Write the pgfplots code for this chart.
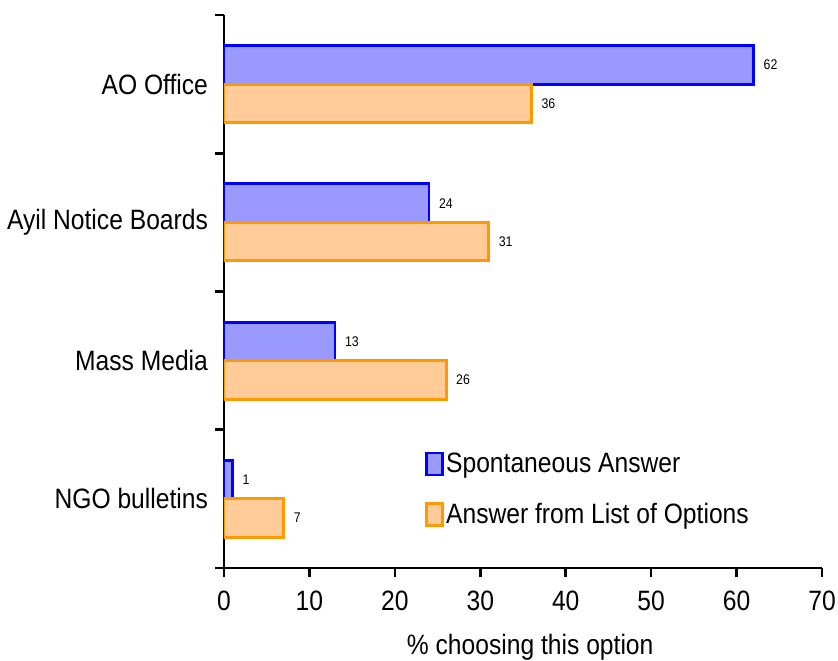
\documentclass[border=0pt]{standalone}
\usepackage{fontspec}
\setmainfont[FakeStretch=0.88]{Liberation Sans}
\usepackage{pgfplots}
\pgfplotsset{compat=1.18}
\definecolor{bfill}{HTML}{9999FF}
\definecolor{bdraw}{HTML}{0000FF}
\definecolor{ofill}{HTML}{FFCC99}
\definecolor{odraw}{HTML}{FF9900}
\begin{document}
\begin{tikzpicture}
\begin{axis}[
  scale only axis, width=299pt, height=276.5pt,
  xmin=0, xmax=70, ymin=-0.5, ymax=3.5,
  xbar, bar width=19.25pt,
  axis lines*=left,
  axis line style={-, line width=1.3pt, black},
  xtick={0,10,...,70},
  ytick={-0.5,0.5,1.5,2.5,3.5},
  y tick label as interval,
  yticklabels={NGO bulletins, Mass Media, Ayil Notice Boards, AO Office},
  tick align=outside, major tick length=4.5pt,
  tick style={line width=1.3pt, black},
  ticklabel style={font=\fontsize{14}{16}\selectfont},
  xticklabel style={yshift=-3.5pt},
  /pgf/number format/assume math mode=true,
  xlabel={\% choosing this option},
  xlabel style={font=\fontsize{14}{16}\selectfont, at={(axis description cs:0.512,0)}, anchor=north, yshift=-29.5pt},
  nodes near coords,
  every node near coord/.append style={font=\fontsize{7}{8}\selectfont, anchor=west, xshift=1pt, black},
  legend style={at={(0.336,0.213)}, anchor=north west, draw=none, fill=none, inner sep=0pt,
    font=\fontsize{14}{16}\selectfont, row sep=12pt, nodes={inner sep=1pt}},
  legend cell align=left,
  legend image code/.code={\draw[#1, line width=1.4pt] (0pt,-5.5pt) rectangle (8pt,5.5pt);},
]
\addplot[xbar, bar shift=9.625pt, fill=bfill, draw=bdraw, line width=1.4pt] coordinates {(62,3) (24,2) (13,1) (1,0)};
\addlegendentry{Spontaneous Answer}
\addplot[xbar, bar shift=-9.625pt, fill=ofill, draw=odraw, line width=1.4pt] coordinates {(36,3) (31,2) (26,1) (7,0)};
\addlegendentry{Answer from List of Options}
\coordinate (sw) at (rel axis cs:0,0);
\end{axis}
\pgfresetboundingbox
\path ([shift={(-112pt,-46pt)}]sw) rectangle ([shift={(307pt,284pt)}]sw);
\end{tikzpicture}
\end{document}
